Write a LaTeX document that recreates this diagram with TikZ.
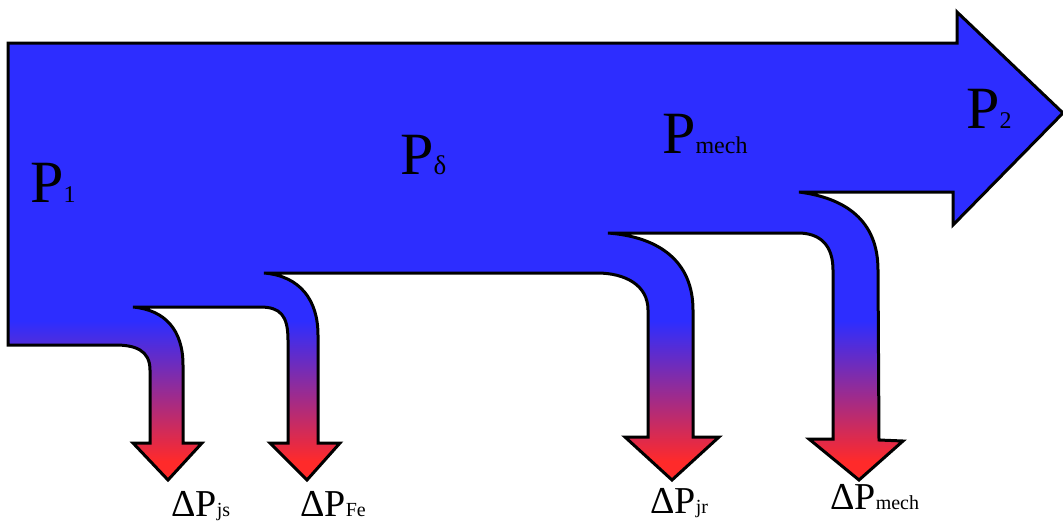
\documentclass[tikz,border=0pt]{standalone}
\usepackage{fontspec}
\setmainfont{Liberation Serif}
\usepackage{xcolor}

\definecolor{flowblue}{RGB}{45,45,255}
\definecolor{lossred}{RGB}{255,42,42}
\pgfdeclareverticalshading{lossflow}{100bp}{color(0bp)=(lossred); color(27bp)=(lossred); color(42bp)=(flowblue); color(100bp)=(flowblue)}

\newcommand{\idx}[2][24]{{\fontsize{#1}{#1}\selectfont #2}}

\tikzset{
  biglabel/.style={anchor=base west, inner sep=0pt, font=\fontsize{60}{60}\selectfont},
  losslabel/.style={anchor=base west, inner sep=0pt, font=\fontsize{38}{38}\selectfont},
}

\begin{document}
\begin{tikzpicture}[x=1pt, y=-1pt]
  \useasboundingbox (0,0) rectangle (1063,525);
  % power flow and its four loss branches
  \shadedraw[shading=lossflow, line width=3pt]
    (8,43) -- (957,43) -- (957,12) -- (1063,113) -- (953,225) -- (953,192) -- (799,192)
    .. controls (845,198) and (878,220) .. (878,270) -- (879,440) -- (903,441) -- (859,480) -- (809,439) -- (833,439) -- (833,270)
    .. controls (833,245) and (820,233) .. (798,233) -- (608,233)
    .. controls (660,237) and (693,262) .. (693,310) -- (693,437) -- (719,437) -- (672,480) -- (625,437) -- (648,437) -- (648,310)
    .. controls (648,285) and (625,273) .. (597,273) -- (264,273)
    .. controls (300,276) and (318,300) .. (318,335) -- (318,443) -- (340,443) -- (307,480) -- (270,443) -- (288,443) -- (288,340)
    .. controls (288,315) and (280,307) .. (260,307) -- (133,307)
    .. controls (165,310) and (183,330) .. (183,365) -- (183,443) -- (202,443) -- (168,480) -- (133,443) -- (150,443) -- (150,370)
    .. controls (150,350) and (135,345) .. (115,345) -- (8,345) -- cycle;

  \node[biglabel] (p1) at (30,202) {P\idx{1}};
  \node[biglabel] (pdelta) at (400,174) {P\idx[27]{δ}};
  \node[biglabel] (pmech) at (662,153) {P\idx{mech}};
  \node[biglabel] (p2) at (966,128) {P\idx{2}};

  \node[losslabel] (djs) at (171,516) {ΔP\idx[20]{js}};
  \node[losslabel] (dfe) at (300,516) {ΔP\idx[20]{Fe}};
  \node[losslabel] (djr) at (650,513) {ΔP\idx[20]{jr}};
  \node[losslabel] (dmech) at (830,509) {ΔP\idx[20]{mech}};
\end{tikzpicture}
\end{document}
